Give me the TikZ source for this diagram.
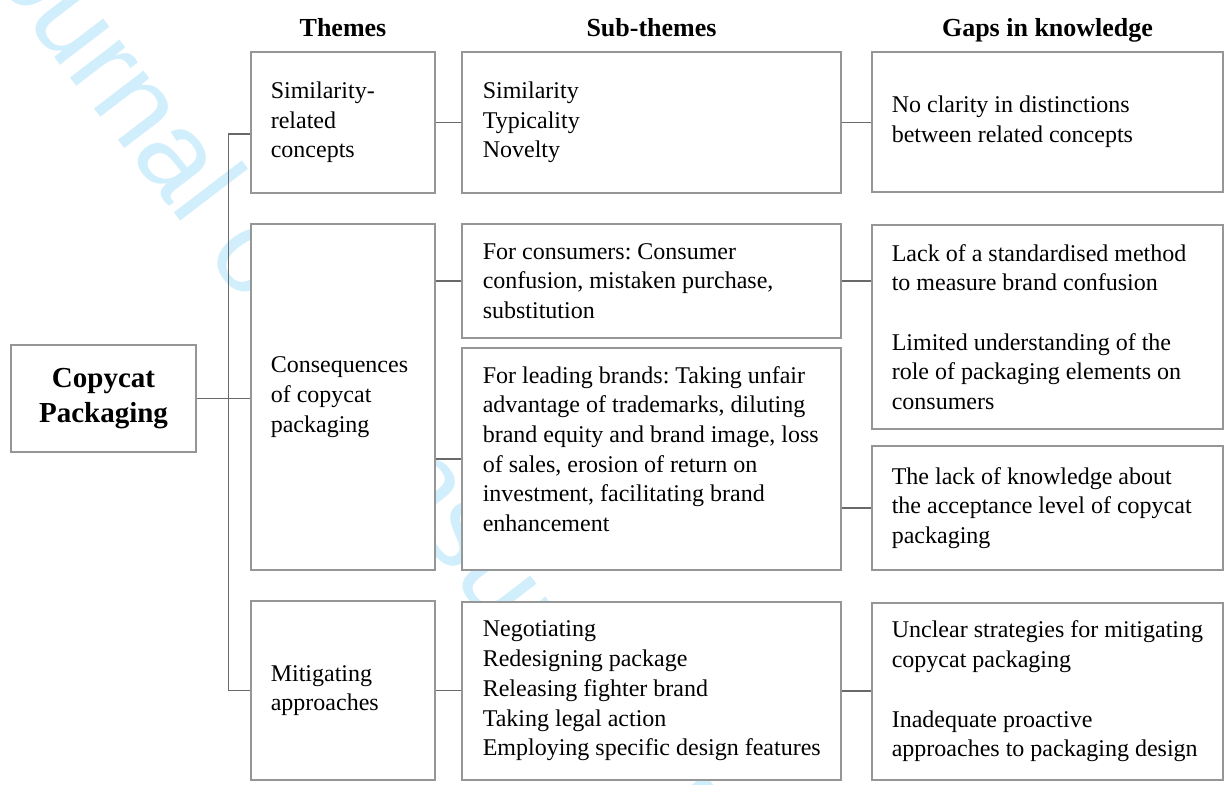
\documentclass[tikz,border=0pt]{standalone}
\usepackage{fontspec}
\setmainfont{Liberation Serif}
\newfontfamily\wmfont{Liberation Sans}
\usepackage{tikz}
\usetikzlibrary{positioning}
\definecolor{boxgray}{RGB}{150,150,150}
\definecolor{linkgray}{RGB}{105,105,105}
\definecolor{wmcyan}{RGB}{208,238,251}
\frenchspacing

\begin{document}
\begin{tikzpicture}[x=0.5pt,y=-0.5pt,
  box/.style={draw=boxgray,fill=white,line width=0.6pt,inner sep=0pt},
  txt/.style={inner sep=0pt,align=left,font=\fontsize{12}{14.85}\selectfont},
  head/.style={inner sep=0pt,anchor=base,font=\fontsize{13}{15}\selectfont\bfseries},
  link/.style={draw=linkgray,line width=0.6pt}]
\useasboundingbox (0,0) rectangle (1224,784);
\clip (0,0) rectangle (1224,784);
\fill[white] (0,0) rectangle (1224,784);
\node[inner sep=0pt,anchor=base west,rotate=-52.6,text=wmcyan,font=\wmfont\fontsize{59}{59}\selectfont] (wmark) at (-50,-80) {Journal of Consumer Marketing};

\node[head] (hThemes) at (343,36) {Themes};
\node[head] (hSub) at (651.5,36) {Sub-themes};
\node[head] (hGaps) at (1047.5,36) {Gaps in knowledge};

\node[box,minimum width=92.5pt,minimum height=53.5pt,align=center,font=\fontsize{14.5}{17.5}\selectfont\bfseries] (copy) at (103.5,398.5) {Copycat\\Packaging};

\node[box,minimum width=92pt,minimum height=70.5pt] (simT) at (343,122.5) {};
\node[box,minimum width=92pt,minimum height=173pt] (conT) at (343,397) {};
\node[box,minimum width=92pt,minimum height=89.5pt] (mitT) at (343,690.5) {};

\node[box,minimum width=189.5pt,minimum height=70.5pt] (simS) at (651.5,122.5) {};
\node[box,minimum width=189.5pt,minimum height=57pt] (cnsS) at (651.5,281) {};
\node[box,minimum width=189.5pt,minimum height=111pt] (leadS) at (651.5,459) {};
\node[box,minimum width=189.5pt,minimum height=89pt] (mitS) at (651.5,691) {};

\node[box,minimum width=175.5pt,minimum height=70pt] (simG) at (1047.5,122) {};
\node[box,minimum width=175.5pt,minimum height=102pt] (cnsG) at (1047.5,327) {};
\node[box,minimum width=175.5pt,minimum height=62pt] (leadG) at (1047.5,508) {};
\node[box,minimum width=175.5pt,minimum height=88.5pt] (mitG) at (1047.5,691.5) {};

\node[txt,right=10pt of simT.west] (simTt) {Similarity-\\related\\concepts};
\node[txt,right=10pt of conT.west] (conTt) {Consequences\\of copycat\\packaging};
\node[txt,right=10pt of mitT.west] (mitTt) {Mitigating\\approaches};

\node[txt,right=10.5pt of simS.west] (simSt) {Similarity\\Typicality\\Novelty};
\node[txt,right=10.5pt of cnsS.west] (cnsSt) {For consumers: Consumer\\confusion, mistaken purchase,\\substitution};
\node[txt,right=10.5pt of leadS.west,yshift=5pt] (leadSt) {For leading brands: Taking unfair\\advantage of trademarks, diluting\\brand equity and brand image, loss\\of sales, erosion of return on\\investment, facilitating brand\\enhancement};
\node[txt,right=10.5pt of mitS.west] (mitSt) {Negotiating\\Redesigning package\\Releasing fighter brand\\Taking legal action\\Employing specific design features};

\node[txt,right=10pt of simG.west] (simGt) {No clarity in distinctions\\between related concepts};
\node[txt,right=10pt of cnsG.west] (cnsGt) {Lack of a standardised method\\to measure brand confusion\\[14.85pt]Limited understanding of the\\role of packaging elements on\\consumers};
\node[txt,right=10pt of leadG.west] (leadGt) {The lack of knowledge about\\the acceptance level of copycat\\packaging};
\node[txt,right=10pt of mitG.west] (mitGt) {Unclear strategies for mitigating\\copycat packaging\\[14.85pt]Inadequate proactive\\approaches to packaging design};

\coordinate[right=16pt of copy.east] (trunk);
\draw[link] (copy.east) -- (copy.east -| conT.west);
\draw[link] ([yshift=-5.75pt]simT.west) -| (trunk) |- (mitT.west);
\foreach \a/\b in {simT/simS,simS/simG,cnsS/cnsG,mitT/mitS,mitS/mitG}
  \draw[link] (\a.east) -- (\a.east -| \b.west);
\foreach \a/\b in {conT/cnsS,conT/leadS,leadS/leadG}
  \draw[link] (\b.west -| \a.east) -- (\b.west);
\end{tikzpicture}
\end{document}
